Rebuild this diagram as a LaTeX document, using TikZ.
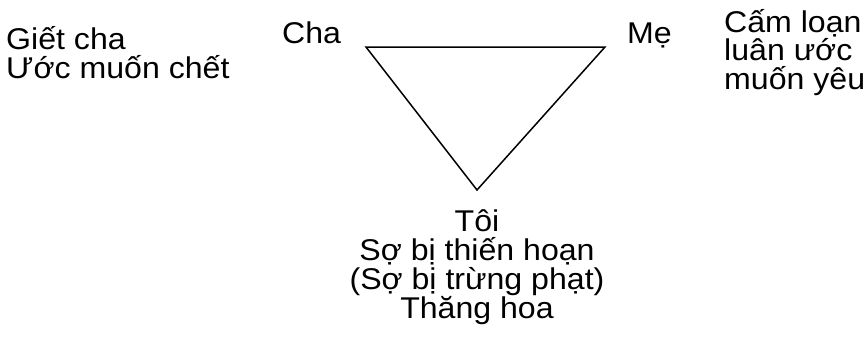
\documentclass[tikz,border=0pt]{standalone}
\usepackage{fontspec}
\setmainfont{Liberation Sans}[FakeStretch=1.07]

\begin{document}
\begin{tikzpicture}[x=1pt,y=-1pt,
    nhan/.style={inner sep=0pt,anchor=base west,align=left,font=\fontsize{30}{28.7}\selectfont},
    canh/.style={line width=1.5pt,line join=miter}]
    \useasboundingbox (0,0) rectangle (868,359);
    % dinh tam giac
    \coordinate (dinhCha) at (366,47);
    \coordinate (dinhMe) at (605,47);
    \coordinate (dinhToi) at (477,190);
    % canh
    \draw[canh] (dinhCha) -- (dinhMe) -- (dinhToi) -- cycle;
    % chu
    \node[nhan] (giet) at (6,78.5) {Giết cha\\Ước muốn chết};
    \node[nhan] (cha) at (282,43) {Cha};
    \node[nhan] (me) at (627,43) {Mẹ};
    \node[nhan] (cam) at (724,89.5) {Cấm loạn\\luân ước\\muốn yêu};
    \node[nhan,anchor=base,align=center] (toi) at (477,318)
      {Tôi\\Sợ bị thiến hoạn\\(Sợ bị trừng phạt)\\Thăng hoa};
\end{tikzpicture}
\end{document}
